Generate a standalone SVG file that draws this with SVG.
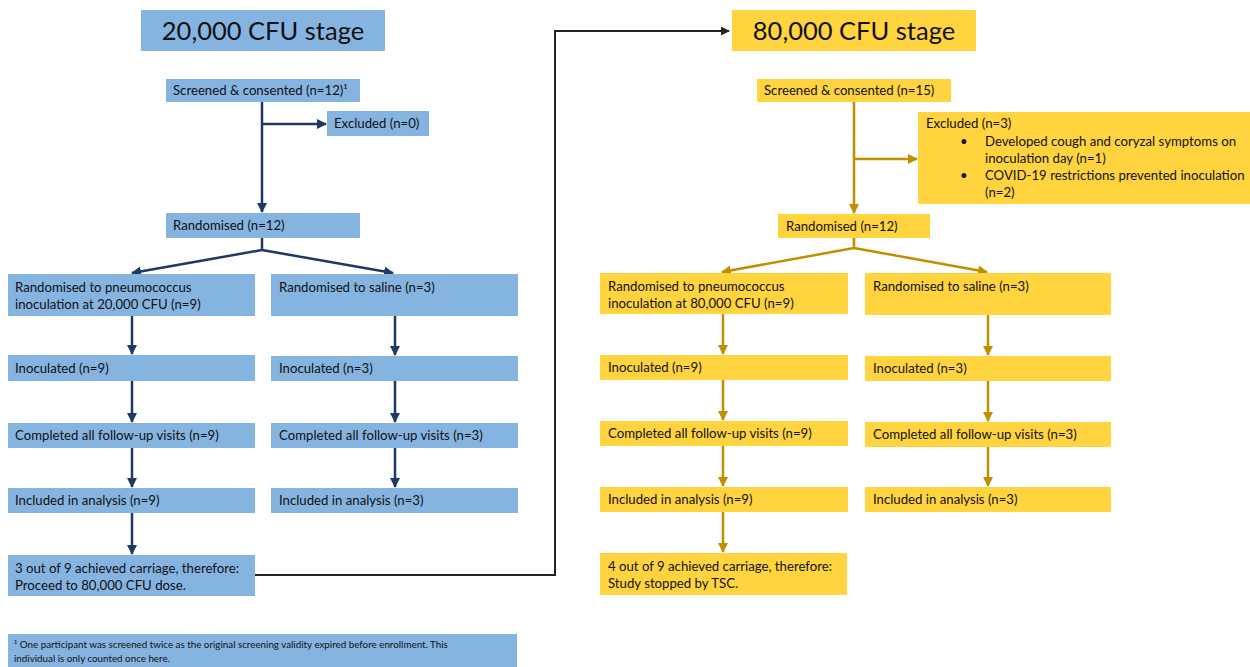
<svg xmlns="http://www.w3.org/2000/svg" width="1250" height="667" viewBox="0 0 1250 667">
<style>
.b{fill:#86B4E0}
.y{fill:#FFD43F}
.t{font-family:Lato,"Open Sans","Liberation Sans",sans-serif;font-size:13.2px;fill:#111}
.h{font-family:Lato,"Open Sans","Liberation Sans",sans-serif;font-size:25.5px;fill:#111;text-anchor:middle}
.f{font-family:Lato,"Open Sans","Liberation Sans",sans-serif;font-size:9.8px;fill:#111}
.cb{fill:none;stroke:#1F3864;stroke-width:2.5}
.cy{fill:none;stroke:#BF8F00;stroke-width:2.5}
.ck{fill:none;stroke:#222;stroke-width:2}
</style>
<defs>
<marker id="ab" viewBox="0 0 10 10" refX="9" refY="5" markerWidth="4" markerHeight="4" orient="auto" markerUnits="strokeWidth"><path d="M0,0L10,5L0,10z" fill="#1F3864"/></marker>
<marker id="ay" viewBox="0 0 10 10" refX="9" refY="5" markerWidth="4" markerHeight="4" orient="auto" markerUnits="strokeWidth"><path d="M0,0L10,5L0,10z" fill="#BF8F00"/></marker>
<marker id="ak" viewBox="0 0 10 10" refX="9" refY="5" markerWidth="4.5" markerHeight="4.5" orient="auto" markerUnits="strokeWidth"><path d="M0,0L10,5L0,10z" fill="#222"/></marker>
</defs>
<rect width="1250" height="667" fill="#fff"/>

<g id="connectors">
<path class="cb" d="M262,102V212" marker-end="url(#ab)"/>
<path class="cb" d="M262,124H326" marker-end="url(#ab)"/>
<path class="cb" d="M262,238V250L132,273" marker-end="url(#ab)"/>
<path class="cb" d="M262,250L393,273" marker-end="url(#ab)"/>
<path class="cb" d="M132,316V354" marker-end="url(#ab)"/>
<path class="cb" d="M132,381V422" marker-end="url(#ab)"/>
<path class="cb" d="M132,448V487" marker-end="url(#ab)"/>
<path class="cb" d="M132,513V554" marker-end="url(#ab)"/>
<path class="cb" d="M395,316V355" marker-end="url(#ab)"/>
<path class="cb" d="M395,381V422" marker-end="url(#ab)"/>
<path class="cb" d="M395,448V487" marker-end="url(#ab)"/>
<path class="ck" d="M255,575H555V31H729" marker-end="url(#ak)"/>
<path class="cy" d="M854,102V213" marker-end="url(#ay)"/>
<path class="cy" d="M854,159H917" marker-end="url(#ay)"/>
<path class="cy" d="M854,238V248L722,272" marker-end="url(#ay)"/>
<path class="cy" d="M854,248L987,272" marker-end="url(#ay)"/>
<path class="cy" d="M723,314V354" marker-end="url(#ay)"/>
<path class="cy" d="M723,380V420" marker-end="url(#ay)"/>
<path class="cy" d="M723,446V486" marker-end="url(#ay)"/>
<path class="cy" d="M723,512V552" marker-end="url(#ay)"/>
<path class="cy" d="M988,315V355" marker-end="url(#ay)"/>
<path class="cy" d="M988,380V421" marker-end="url(#ay)"/>
<path class="cy" d="M988,446V486" marker-end="url(#ay)"/>
</g>

<g id="title20"><rect class="b" x="141" y="10" width="244" height="41"/><text class="h" x="263" y="40">20,000 CFU stage</text></g>
<g id="screen20"><rect class="b" x="166" y="79" width="194" height="23"/><text class="t" x="173" y="95">Screened &amp; consented (n=12)¹</text></g>
<g id="excl20"><rect class="b" x="327" y="111" width="102" height="25"/><text class="t" x="334" y="128">Excluded (n=0)</text></g>
<g id="rand20"><rect class="b" x="166" y="213" width="194" height="25"/><text class="t" x="173" y="230">Randomised (n=12)</text></g>
<g id="pn20"><rect class="b" x="8" y="274" width="247" height="42"/><text class="t" x="15" y="292">Randomised to pneumococcus</text><text class="t" x="15" y="309">inoculation at 20,000 CFU (n=9)</text></g>
<g id="sal20"><rect class="b" x="271" y="274" width="247" height="42"/><text class="t" x="279" y="292">Randomised to saline (n=3)</text></g>
<g id="inoc20a"><rect class="b" x="8" y="355" width="247" height="26"/><text class="t" x="15" y="373">Inoculated (n=9)</text></g>
<g id="inoc20b"><rect class="b" x="271" y="356" width="247" height="25"/><text class="t" x="279" y="373">Inoculated (n=3)</text></g>
<g id="comp20a"><rect class="b" x="8" y="423" width="247" height="25"/><text class="t" x="15" y="440">Completed all follow-up visits (n=9)</text></g>
<g id="comp20b"><rect class="b" x="271" y="423" width="247" height="25"/><text class="t" x="279" y="440">Completed all follow-up visits (n=3)</text></g>
<g id="incl20a"><rect class="b" x="8" y="488" width="247" height="25"/><text class="t" x="15" y="505">Included in analysis (n=9)</text></g>
<g id="incl20b"><rect class="b" x="271" y="488" width="247" height="25"/><text class="t" x="279" y="505">Included in analysis (n=3)</text></g>
<g id="res20"><rect class="b" x="8" y="555" width="247" height="41"/><text class="t" x="15" y="573">3 out of 9 achieved carriage, therefore:</text><text class="t" x="15" y="590">Proceed to 80,000 CFU dose.</text></g>
<g id="footnote"><rect class="b" x="8" y="634" width="509" height="33"/><text class="f" x="14" y="648">¹ One participant was screened twice as the original screening validity expired before enrollment. This</text><text class="f" x="14" y="662">individual is only counted once here.</text></g>

<g id="title80"><rect class="y" x="732" y="10" width="244" height="41"/><text class="h" x="854" y="40">80,000 CFU stage</text></g>
<g id="screen80"><rect class="y" x="757" y="79" width="194" height="23"/><text class="t" x="764" y="95">Screened &amp; consented (n=15)</text></g>
<g id="excl80"><rect class="y" x="918" y="112" width="332" height="92"/>
<text class="t" x="926" y="128">Excluded (n=3)</text>
<text class="t" x="960" y="146">•</text><text class="t" x="985" y="146">Developed cough and coryzal symptoms on</text>
<text class="t" x="985" y="163">inoculation day (n=1)</text>
<text class="t" x="960" y="180">•</text><text class="t" x="985" y="180">COVID-19 restrictions prevented inoculation</text>
<text class="t" x="985" y="197">(n=2)</text></g>
<g id="rand80"><rect class="y" x="778" y="214" width="152" height="24"/><text class="t" x="786" y="231">Randomised (n=12)</text></g>
<g id="pn80"><rect class="y" x="600" y="273" width="248" height="41"/><text class="t" x="608" y="291">Randomised to pneumococcus</text><text class="t" x="608" y="308">inoculation at 80,000 CFU (n=9)</text></g>
<g id="sal80"><rect class="y" x="865" y="273" width="246" height="42"/><text class="t" x="873" y="291">Randomised to saline (n=3)</text></g>
<g id="inoc80a"><rect class="y" x="600" y="355" width="248" height="25"/><text class="t" x="608" y="372">Inoculated (n=9)</text></g>
<g id="inoc80b"><rect class="y" x="865" y="356" width="246" height="25"/><text class="t" x="873" y="373">Inoculated (n=3)</text></g>
<g id="comp80a"><rect class="y" x="600" y="421" width="248" height="25"/><text class="t" x="608" y="438">Completed all follow-up visits (n=9)</text></g>
<g id="comp80b"><rect class="y" x="865" y="422" width="246" height="25"/><text class="t" x="873" y="439">Completed all follow-up visits (n=3)</text></g>
<g id="incl80a"><rect class="y" x="600" y="487" width="248" height="25"/><text class="t" x="608" y="504">Included in analysis (n=9)</text></g>
<g id="incl80b"><rect class="y" x="865" y="487" width="246" height="25"/><text class="t" x="873" y="504">Included in analysis (n=3)</text></g>
<g id="res80"><rect class="y" x="600" y="553" width="247" height="42"/><text class="t" x="608" y="571">4 out of 9 achieved carriage, therefore:</text><text class="t" x="608" y="588">Study stopped by TSC.</text></g>
</svg>
